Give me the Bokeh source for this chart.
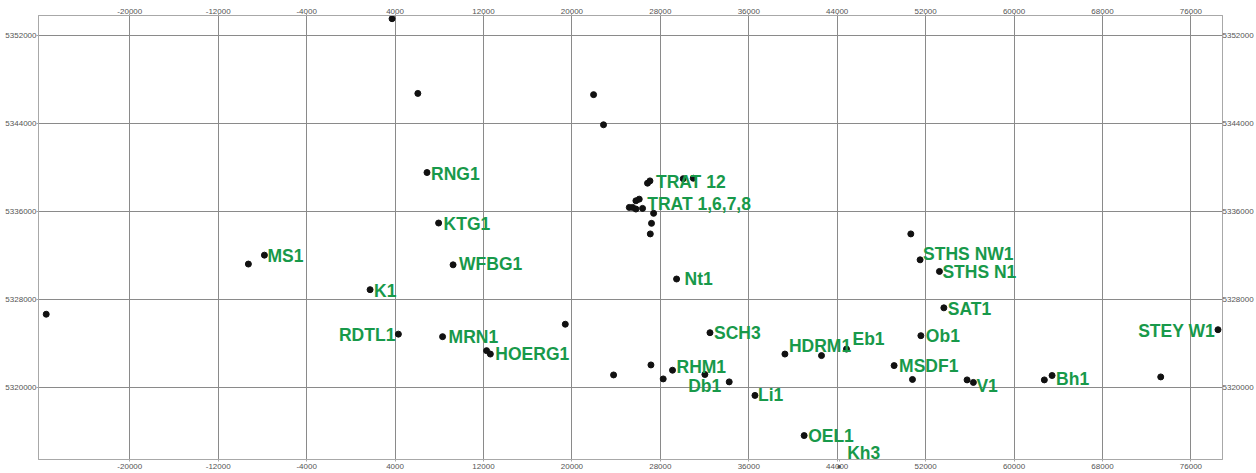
from bokeh.plotting import figure
from bokeh.models import ColumnDataSource, LabelSet, LinearAxis, FixedTicker, Range1d
from bokeh.embed import file_html
from bokeh.resources import INLINE
from bokeh.core.properties import value

# ---------------- data ----------------
station_names = ["MS1", "K1", "RNG1", "KTG1", "WFBG1", "TRAT 12", "TRAT 1,6,7,8", "Nt1",
                 "STHS NW1", "STHS N1", "SAT1", "RDTL1", "MRN1", "HOERG1", "SCH3", "RHM1",
                 "Db1", "Li1", "HDRM1", "Eb1", "Ob1", "MSDF1", "V1", "Bh1", "STEY W1",
                 "OEL1", "Kh3"]
station_x = [-7820, 1740, 6890, 7940, 9250, 27060, 26090, 29470,
             51500, 53250, 53650, 4300, 8300, 12620, 32490, 29100,
             34230, 36560, 39270, 44840, 51570, 49150, 56320, 63440, 78450,
             41010, 44180]
station_y = [5332000, 5328860, 5339510, 5334920, 5331120, 5338750, 5337090, 5329830,
             5331575, 5330520, 5327210, 5324820, 5324590, 5323010, 5324950, 5321540,
             5320480, 5319250, 5323010, 5323460, 5324680, 5321960, 5320430, 5321060, 5325220,
             5315600, 5313040]

other_x = [3730, 6060, 21960, 22860, -9270, -27560, 26840, 30070, 30980, 25790,
           25190, 25490, 25790, 26390, 27390, 27200, 27090, 50660, 19400, 12280,
           23770, 27150, 28260, 32030, 42580, 50810, 55750, 62740, 73270]
other_y = [5353490, 5346700, 5346590, 5343850, 5331190, 5326630, 5338540, 5338950, 5338990, 5336940,
           5336340, 5336340, 5336190, 5336250, 5335800, 5334890, 5333930, 5333930, 5325720, 5323320,
           5321110, 5322020, 5320750, 5321150, 5322870, 5320700, 5320660, 5320660, 5320930]

x_ticks = [-20000, -12000, -4000, 4000, 12000, 20000, 28000, 36000, 44000, 52000, 60000, 68000, 76000]
x_tick_labels = ["-20000", "-12000", "-4000", "4000", "12000", "20000", "28000", "36000",
                 "44000", "52000", "60000", "68000", "76000"]
y_ticks = [5320000, 5328000, 5336000, 5344000, 5352000]
y_tick_labels = ["5320000", "5328000", "5336000", "5344000", "5352000"]

# label placement (screen px offsets, alignment) - styling only
label_dx = [3, 4, 4, 5, 6, 6, 8, 8, 3, 3, 4, -3, 6, 5, 4, 4, -8, 3, 4, 6, 5, 5, 3, 4, -3, 4, 8]
label_dy = [-1, -1, -1, -1, 1, -1, -5, 0, 6, -1, -1, -1, 0, 0, 0, 3, -4, 0, 8, 10, 0, 0, -4, -3, -1, 0, 11]
label_align = ["left"] * 11 + ["right"] + ["left"] * 4 + ["right"] + ["left"] * 7 + ["right"] + ["left", "left"]

GREEN = "#18994a"
GRID = "#8a8a8a"
FRAME = "#a8a8a8"
TICKTXT = "#555555"

p = figure(width=1256, height=473, output_backend="svg", toolbar_location=None,
           x_range=Range1d(-28258, 78858), y_range=Range1d(5313425, 5353782),
           min_border_left=38, min_border_right=33, min_border_top=15, min_border_bottom=11,
           background_fill_color="white", border_fill_color="white")
p.outline_line_color = FRAME
p.outline_line_width = 1

xt = FixedTicker(ticks=x_ticks)
yt = FixedTicker(ticks=y_ticks)
xover = {t: s for t, s in zip(x_ticks, x_tick_labels)}
yover = {t: s for t, s in zip(y_ticks, y_tick_labels)}

# Kh3 lies just outside the frame (over the "44000" label); the frame clips glyphs,
# so its marker is drawn in the bottom axis panel at its own x position.
kh3_x = station_x[station_names.index("Kh3")]
bottom_ticker = FixedTicker(ticks=x_ticks + [kh3_x])
bottom_over = dict(xover)
bottom_over[kh3_x] = "\u25cf"

p.xaxis.ticker = bottom_ticker
p.yaxis.ticker = yt
p.add_layout(LinearAxis(ticker=xt), "above")
right_axis = LinearAxis(ticker=yt)
p.add_layout(right_axis, "right")

p.below[0].major_label_overrides = bottom_over
p.above[0].major_label_overrides = xover
for ax in p.yaxis:
    ax.major_label_overrides = yover
for ax in p.axis:
    ax.axis_line_color = FRAME
    ax.major_tick_line_color = FRAME
    ax.major_tick_out = 2
    ax.major_tick_in = 0
    ax.minor_tick_line_color = None
    ax.major_label_standoff = 0
    ax.major_label_text_font = "Liberation Sans"
    ax.major_label_text_font_size = "8px"
    ax.major_label_text_color = TICKTXT
    ax.major_label_orientation = "horizontal"
right_axis.major_tick_out = 0

p.xgrid.ticker = xt
p.ygrid.ticker = yt
p.grid.grid_line_color = GRID
p.grid.grid_line_width = 1

p.scatter(other_x, other_y, size=6, color="#111111", marker="circle")
p.scatter(station_x, station_y, size=6, color="#111111", marker="circle")

src = ColumnDataSource(dict(x=station_x, y=station_y, name=station_names,
                            dx=label_dx, dy=label_dy, align=label_align))
p.add_layout(LabelSet(x="x", y="y", text="name", source=src, x_offset="dx", y_offset="dy",
                      text_align="align", text_baseline="middle",
                      text_font=value("Liberation Sans"), text_font_style="bold",
                      text_font_size="17.5px", text_color=GREEN))

open("out.html", "w").write(file_html(p, INLINE))
